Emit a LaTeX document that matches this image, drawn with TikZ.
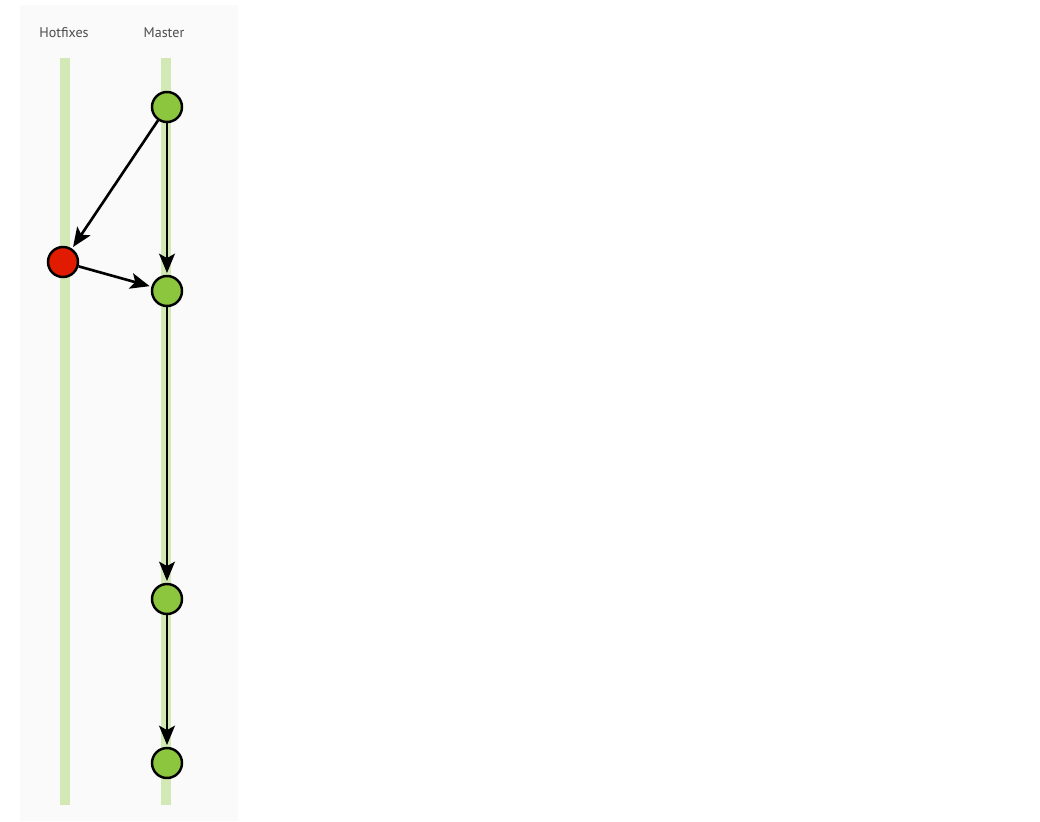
\documentclass[tikz,border=0pt]{standalone}
\usepackage{fontspec}
\setmainfont{PT Sans}
\usetikzlibrary{arrows.meta}
\definecolor{palet1}{HTML}{8CC63F}
\definecolor{palet2}{HTML}{E11B00}
\definecolor{palet3}{HTML}{D2E8B5}
\definecolor{palet4}{HTML}{FAFAFA}
\colorlet{cmaster}{palet1}
\colorlet{chotfix}{palet2}
\colorlet{clane}{palet3}
\colorlet{cpanel}{palet4}
\tikzset{
  commit/.style={circle, draw=black, line width=1.4pt, minimum size=0.6cm, inner sep=0pt},
  flow/.style={-{Stealth[length=11pt,width=9pt,inset=2.5pt]}, line width=1.5pt, shorten >=1pt},
  lane/.style={line width=5.7pt, draw=clane},
  lanename/.style={font=\fontsize{8}{9}\selectfont, text=black!70}
}

\begin{document}
\begin{tikzpicture}[x=0.02cm, y=-0.02cm]
  \useasboundingbox (0,0) rectangle (1040,821);
  \fill[cpanel] (20,5) rectangle (238,821);
  % lanes
  \draw[lane] (65,58) -- (65,805);
  \draw[lane] (166,58) -- (166,805);
  \path
  (64,33) node[lanename] (hot) {Hotfixes}
  (164,33) node[lanename] (mas) {Master};
  % commits
  \path
  (167,107) node[commit, fill=cmaster] (m1) {}
  (167,291) node[commit, fill=cmaster] (m2) {}
  (167,599) node[commit, fill=cmaster] (m3) {}
  (167,763) node[commit, fill=cmaster] (m4) {}
  (63,262) node[commit, fill=chotfix] (h1) {};
  \draw[flow] (m1) -- (h1);
  \draw[flow] (h1) -- (m2);
  \draw[flow] (m1) -- (m2);
  \draw[flow] (m2) -- (m3);
  \draw[flow] (m3) -- (m4);
\end{tikzpicture}
\end{document}
